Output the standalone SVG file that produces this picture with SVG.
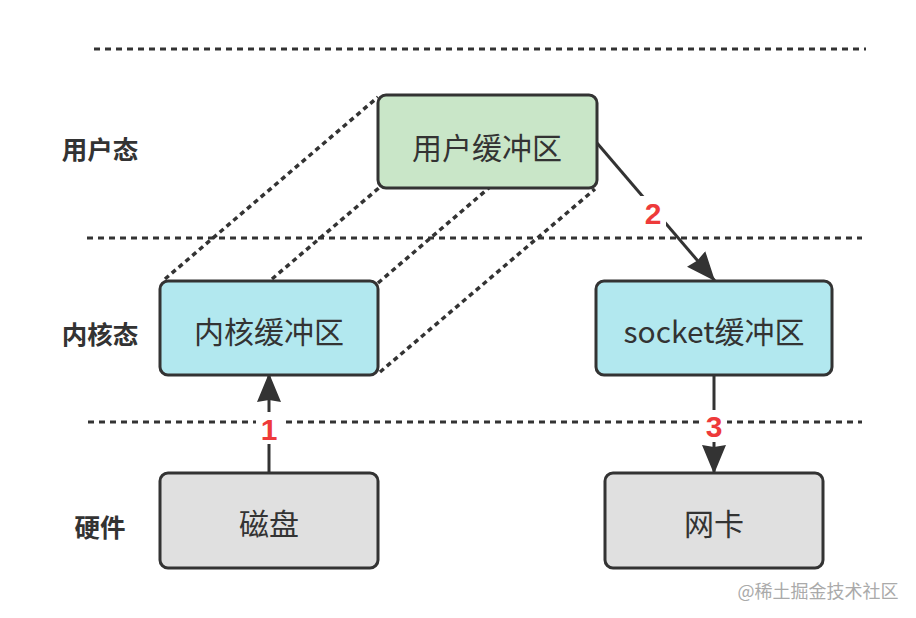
<svg xmlns="http://www.w3.org/2000/svg" width="916" height="618" viewBox="0 0 916 618">
<defs>
<marker id="ah" markerUnits="userSpaceOnUse" markerWidth="32" markerHeight="26" refX="29" refY="12" orient="auto">
<path d="M0,0 L29,12 L0,24 L2,12 Z" fill="#333"/>
</marker>
<style>
.layer{stroke:#333;stroke-width:3;stroke-dasharray:6 5;fill:none}
.proj{stroke:#333;stroke-width:3.5;stroke-dasharray:5 4;fill:none}
.box{stroke:#333;stroke-width:3}
.green{fill:#c9e6c8}
.cyan{fill:#b2e8ef}
.gray{fill:#e0e0e0}
.t{font-family:"Noto Sans CJK SC","Liberation Sans",sans-serif;font-size:30px;fill:#333;text-anchor:middle;dominant-baseline:central}
.lab{font-family:"Noto Sans CJK SC","Liberation Sans",sans-serif;font-size:25.5px;font-weight:bold;fill:#333;text-anchor:middle;dominant-baseline:central}
.num{font-family:"Liberation Sans","Noto Sans",sans-serif;font-size:30px;font-weight:bold;fill:#ee3a3a;text-anchor:middle;dominant-baseline:central}
.arr{stroke:#333;stroke-width:3;fill:none}
</style>
</defs>
<rect width="916" height="618" fill="#fff"/>
<g id="layers">
<line class="layer" x1="94" y1="49" x2="866" y2="49"/>
<line class="layer" x1="87" y1="238" x2="862" y2="238"/>
<line class="layer" x1="88" y1="422" x2="862" y2="422"/>
</g>
<g id="layer-labels">
<text class="lab" x="100" y="147">用户态</text>
<text class="lab" x="100" y="332">内核态</text>
<text class="lab" x="100" y="525">硬件</text>
</g>
<g id="connectors">
<line class="proj" x1="165" y1="279" x2="378" y2="97"/>
<line class="proj" x1="272" y1="279" x2="380" y2="187"/>
<line class="proj" x1="378" y1="283" x2="595" y2="97"/>
<line class="proj" x1="380" y1="372" x2="595" y2="189"/>
<line class="arr" x1="597" y1="143" x2="715" y2="281" marker-end="url(#ah)"/>
<line class="arr" x1="269" y1="473" x2="269" y2="373" marker-end="url(#ah)"/>
<line class="arr" x1="714" y1="375" x2="714" y2="474" marker-end="url(#ah)"/>
<rect x="640" y="196" width="26" height="34" fill="#fff"/>
<text class="num" x="653" y="213">2</text>
<rect x="256" y="412" width="26" height="32" fill="#fff"/>
<text class="num" x="269" y="429">1</text>
<rect x="701" y="410" width="26" height="32" fill="#fff"/>
<text class="num" x="714" y="426">3</text>
</g>
<g id="user-buffer">
<rect class="box green" x="378" y="95" width="219" height="93" rx="8"/>
<text class="t" x="487" y="146">用户缓冲区</text>
</g>
<g id="kernel-buffer">
<rect class="box cyan" x="160" y="281" width="218" height="94" rx="8"/>
<text class="t" x="269" y="330">内核缓冲区</text>
</g>
<g id="socket-buffer">
<rect class="box cyan" x="596" y="281" width="236" height="94" rx="8"/>
<text class="t" x="714" y="330">socket缓冲区</text>
</g>
<g id="disk">
<rect class="box gray" x="160" y="473" width="218" height="95" rx="8"/>
<text class="t" x="269" y="522">磁盘</text>
</g>
<g id="nic">
<rect class="box gray" x="605" y="473" width="218" height="95" rx="8"/>
<text class="t" x="714" y="522">网卡</text>
</g>
<text x="818" y="590" font-family="Noto Sans CJK SC,Liberation Sans,sans-serif" font-size="18" fill="#aaa" text-anchor="middle" dominant-baseline="central">@稀土掘金技术社区</text>
</svg>
